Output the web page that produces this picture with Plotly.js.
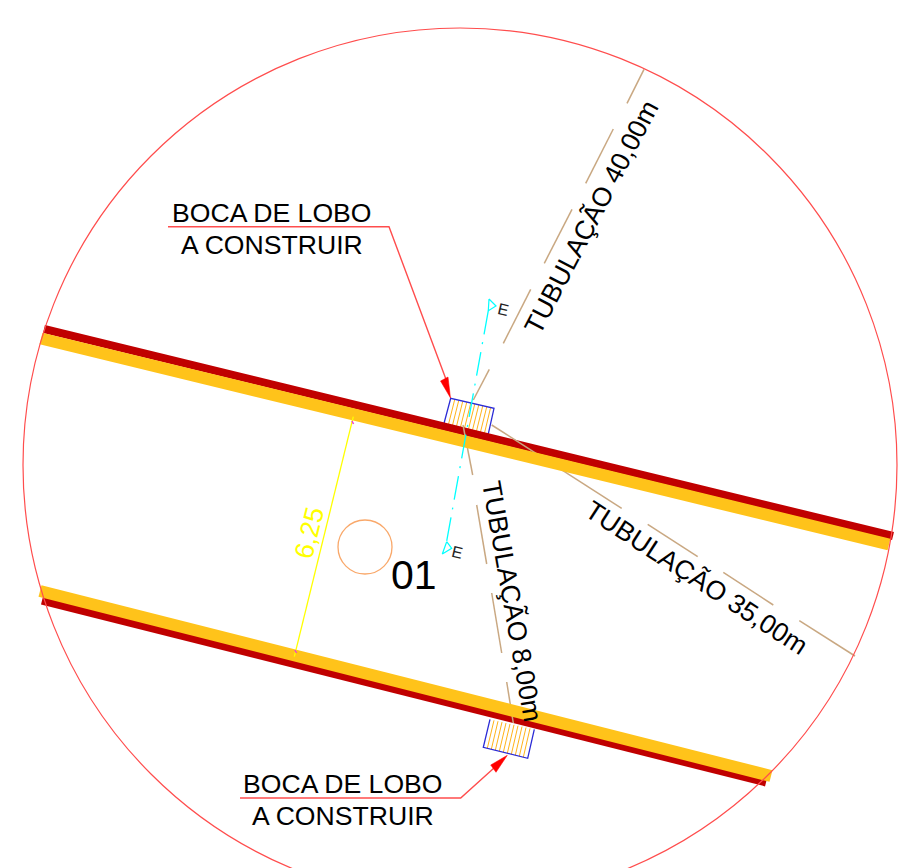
<!DOCTYPE html>
<html>
<head>
<meta charset="utf-8">
<script src="https://cdn.plot.ly/plotly-3.0.1.min.js"></script>
<style>html,body{margin:0;padding:0;background:#fff;overflow:hidden}</style>
</head>
<body>
<div id="chart" style="width:900px;height:868px"></div>
<script>
// Outer detail circle
const outerCircleX = [23, 897];
const outerCircleY = [28, 902];
// Marker circle "01"
const markCircleX = [338, 392];
const markCircleY = [520, 574];

// Road edges
const roadTopRedX = [44, 893];
const roadTopRedY = [329, 536];
const roadTopYellowX = [41, 889];
const roadTopYellowY = [338.5, 544.5];
const roadBotYellowX = [40, 771];
const roadBotYellowY = [591, 776];
const roadBotRedX = [42, 766];
const roadBotRedY = [600.5, 782.5];

// Pipes (tan), gaps where the label breaks the line
const pipe40X = [644, 627, null, 613.3, 585.7, null, 572, 544.3, null, 530.7, 503.3, null, 489.3, 473.3];
const pipe40Y = [69.3, 103.3, null, 129, 183.3, null, 209.3, 263.3, null, 289.3, 343.3, null, 369.3, 400];
const pipe35X = [491.7, 621.7, null, 647.7, 697.7, null, 723.3, 773.3, null, 799.3, 855];
const pipe35Y = [425, 508.3, null, 524.3, 556.7, null, 572.3, 605, null, 620.7, 656];
const pipe8X = [463, 472.7, null, 476.7, 486.7, null, 491.7, 501.7, null, 506.7, 513.3];
const pipe8Y = [425, 475, null, 505, 564, null, 593, 653, null, 682, 723];

// Section line (cyan)
const sectionX = [488.3, 446];
const sectionY = [310.7, 545];
const sectionTopTriX = [489, 496, 488.3, 489];
const sectionTopTriY = [299, 306, 310.7, 299];
const sectionBotTriX = [446.7, 451.7, 442.3, 446.7];
const sectionBotTriY = [541.7, 548.3, 554, 541.7];

// Dimension (yellow)
const dimX = [353.3, 294.3];
const dimY = [416.7, 656.7];
const dimTickX = [352, 353.5, null, 295, 296.5];
const dimTickY = [421, 424, null, 650, 653];

// Inlet blocks
const blockTopEdgeX = [443.3, 450.7, 494, 487.7];
const blockTopEdgeY = [426, 398.3, 408.3, 436.7];
const blockBotEdgeX = [490, 483.3, 527.7, 534.3];
const blockBotEdgeY = [719.3, 747.3, 758.3, 729.3];
const hatchTopX = [454.8,447.8,null,458.8,451.8,null,462.8,455.8,null,466.8,459.8,null,470.8,463.8,null,474.8,467.8,null,478.8,471.8,null,482.8,475.8,null,486.8,479.8,null,490.6,483.9];
const hatchTopY = [399.2,427.1,null,400.2,428,null,401.1,429,null,402,429.9,null,402.9,430.9,null,403.9,431.9,null,404.8,432.8,null,405.7,433.8,null,406.6,434.7,null,407.5,435.6];
const hatchBotX = [494,487.3,null,498,491.3,null,502,495.3,null,506,499.3,null,510,503.3,null,514,507.3,null,518,511.3,null,522,515.3,null,526,519.3,null,530,523.3];
const hatchBotY = [720.3,748.4,null,721.2,749.4,null,722.1,750.4,null,723,751.4,null,723.9,752.4,null,724.8,753.4,null,725.7,754.4,null,726.6,755.3,null,727.5,756.3,null,728.4,757.3];

// Leaders and arrowheads
const leaderTopX = [168, 389, 447];
const leaderTopY = [226.7, 226.7, 382];
const arrowTopX = [450.5, 440.5, 448, 450.5];
const arrowTopY = [398, 381, 377, 398];
const leaderBotX = [240, 460.7, 494];
const leaderBotY = [798, 798, 768];
const arrowBotX = [507.3, 490.7, 496, 507.3];
const arrowBotY = [755.3, 765, 772.3, 755.3];

// Labels
const labelTexts = ['BOCA DE LOBO','A CONSTRUIR','BOCA DE LOBO','A CONSTRUIR','TUBULAÇÃO 40,00m','TUBULAÇÃO 35,00m','TUBULAÇÃO 8,00m','6,25','01','E','E'];
const labelX = [271.5,272,343,343,591.5,696.7,512.3,309,414,503.3,457.7];
const labelY = [213,245,784,816,217,578.3,601.7,532.7,575,309.3,552.3];
const labelAngle = [0,0,0,0,-62.5,33,80,-76,0,13,13];
const labelSize = [26.6,26.6,26.6,26.6,26.6,26.6,26.6,26.6,41,16,16];
const labelColor = ['#000','#000','#000','#000','#000','#000','#000','#ffff00','#000','#222','#222'];

function line(x, y, color, width, extra) {
  return {type:'scatter', mode:'lines', x:x, y:y, connectgaps:false,
    hoverinfo:'skip', showlegend:false, line:Object.assign({color:color, width:width}, extra||{})};
}
function fillTri(x, y, color) {
  return {type:'scatter', mode:'lines', x:x, y:y, fill:'toself', fillcolor:color,
    hoverinfo:'skip', showlegend:false, line:{color:color, width:0.5}};
}

const RED='#c00000', YEL='#ffc31a', TAN='#c9a882', CY='#00ffff', ORG='#ffb31a',
      BLUE='#2b2bd6', LEAD='#ff4d4d';

const data = [
  line(hatchTopX, hatchTopY, ORG, 1),
  line(hatchBotX, hatchBotY, ORG, 1),
  line(blockTopEdgeX, blockTopEdgeY, BLUE, 1.3),
  line(blockBotEdgeX, blockBotEdgeY, BLUE, 1.3),
  line(roadTopRedX, roadTopRedY, RED, 8),
  line(roadBotRedX, roadBotRedY, RED, 8),
  line(pipe40X, pipe40Y, TAN, 1.5),
  line(pipe35X, pipe35Y, TAN, 1.5),
  line(pipe8X, pipe8Y, TAN, 1.5),
  line(roadTopYellowX, roadTopYellowY, YEL, 12),
  line(roadBotYellowX, roadBotYellowY, YEL, 12),
  line(sectionX, sectionY, CY, 1.3, {dash:'24px,8px,2px,8px'}),
  line(sectionTopTriX, sectionTopTriY, CY, 1.2),
  line(sectionBotTriX, sectionBotTriY, CY, 1.2),
  line(dimX, dimY, '#ffff00', 1.3),
  line(dimTickX, dimTickY, '#ee44cc', 1.5),
  line(leaderTopX, leaderTopY, LEAD, 1.4),
  line(leaderBotX, leaderBotY, LEAD, 1.4),
  fillTri(arrowTopX, arrowTopY, '#ff0000'),
  fillTri(arrowBotX, arrowBotY, '#ff0000')
];

const annotations = labelTexts.map((t,i)=>({
  text:t, x:labelX[i], y:labelY[i], xref:'x', yref:'y', showarrow:false,
  xanchor:'center', yanchor:'middle', textangle:labelAngle[i],
  font:{family:'"Liberation Sans", Arial, sans-serif', size:labelSize[i], color:labelColor[i]}
}));

const layout = {
  width:900, height:868, margin:{l:0,r:0,t:0,b:0}, autosize:false,
  paper_bgcolor:'#fff', plot_bgcolor:'#fff', hovermode:false, showlegend:false,
  xaxis:{range:[0,900], visible:false, fixedrange:true},
  yaxis:{range:[868,0], visible:false, fixedrange:true},
  annotations:annotations,
  shapes:[
    {type:'circle', xref:'x', yref:'y', x0:outerCircleX[0], x1:outerCircleX[1], y0:outerCircleY[0], y1:outerCircleY[1], line:{color:'#ff4d4d', width:1.2}},
    {type:'circle', xref:'x', yref:'y', x0:markCircleX[0], x1:markCircleX[1], y0:markCircleY[0], y1:markCircleY[1], line:{color:'#f9a86a', width:1.3}}
  ]
};
Plotly.newPlot('chart', data, layout, {displayModeBar:false, staticPlot:true});
</script>
</body>
</html>
